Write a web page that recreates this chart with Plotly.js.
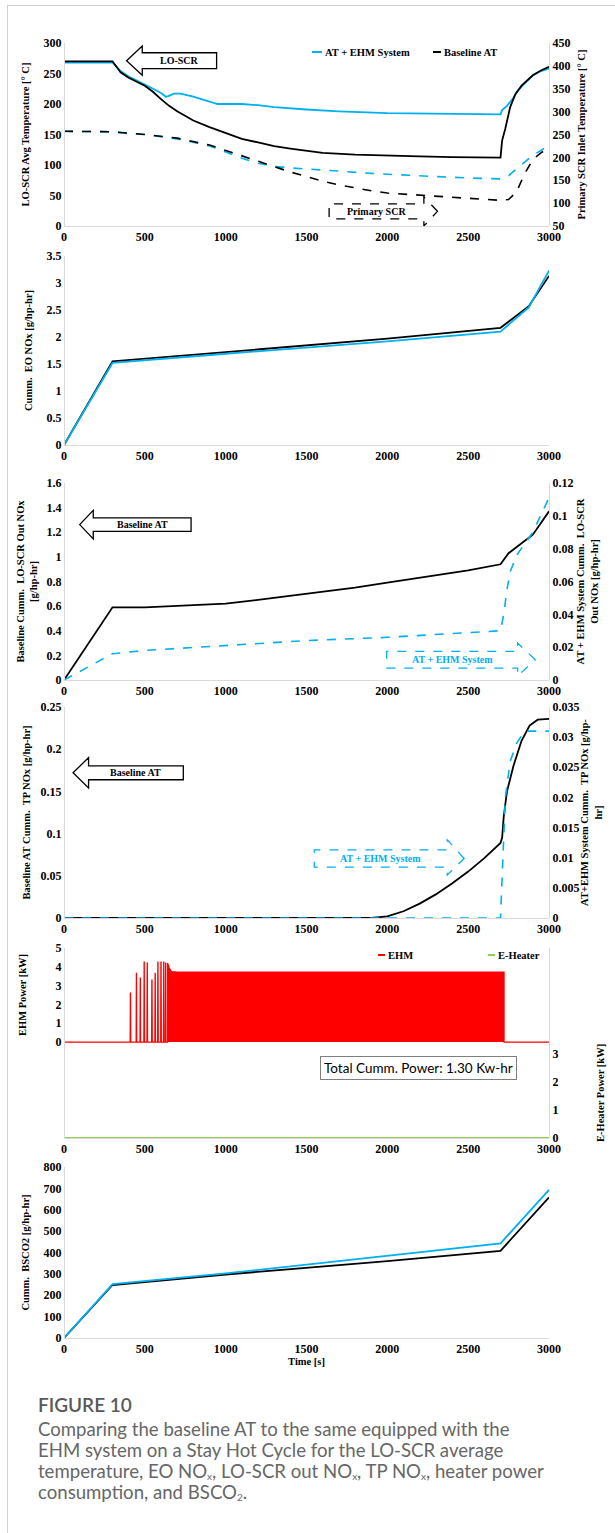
<!DOCTYPE html>
<html><head><meta charset="utf-8">
<script src="https://cdn.plot.ly/plotly-3.0.1.min.js"></script>
<style>
html,body{margin:0;padding:0;background:#fff;}
#wrap{position:relative;width:615px;height:1533px;overflow:hidden;}
#chart{position:absolute;left:0;top:0;width:615px;height:1533px;}
#frame{position:absolute;left:7px;top:5px;width:620px;height:1540px;border-left:1px solid #d0d0d0;border-top:1px solid #d0d0d0;pointer-events:none;}
#fig{position:absolute;left:38px;top:1393px;font-family:Lato,"Open Sans",sans-serif;font-size:19px;font-weight:600;color:#595959;}
#cap{position:absolute;left:38px;top:1419px;font-family:Lato,"Open Sans",sans-serif;font-size:18.6px;line-height:21px;color:#666;}
#cap sub{font-size:10px;vertical-align:-2px;line-height:0;}
</style></head>
<body><div id="wrap"><div id="chart"></div><div id="frame"></div>
<div id="fig">FIGURE 10</div>
<div id="cap">Comparing the baseline AT to the same equipped with the<br>EHM system on a Stay Hot Cycle for the LO-SCR average<br>temperature, EO NO<sub>x</sub>, LO-SCR out NO<sub>x</sub>, TP NO<sub>x</sub>, heater power<br>consumption, and BSCO<sub>2</sub>.</div>
</div>
<script>
// ---------- DATA ----------
// Panel 1: LO-SCR avg temperature (left axis) and primary SCR inlet temp (right axis)
const p1EhmTime = [0,300,350,400,500,600,630,645,680,720,800,900,950,1000,1100,1200,1300,1500,1700,2000,2300,2500,2700,2710,2740,2780,2800,2850,2900,2950,3000];
const p1EhmLoScr = [268,268,254,245,232,218,212,213,217,217,212,204,200,200,200,198,195,191,188,185,184,183,183,190,197,210,220,234,247,254,258];
const p1BaseTime = [0,300,350,400,500,550,600,650,700,800,900,1000,1100,1200,1300,1400,1500,1600,1800,2000,2200,2400,2600,2700,2710,2730,2760,2790,2830,2900,2950,3000];
const p1BaseLoScr = [270,270,252,243,230,220,208,197,188,173,162,152,143,137,131,127,123,120,117,115,114,113,112,112,140,160,195,215,230,247,255,261];
const p1EhmPriTime = [0,300,400,500,600,700,800,900,1000,1100,1200,1300,1400,1500,1700,1900,2100,2300,2500,2700,2750,2800,2850,2900,2950,3000];
const p1EhmPri = [257,256,252,250,245,240,233,225,212,198,187,180,177,175,170,165,161,158,155,153,160,175,190,205,215,227];
const p1BasePriTime = [0,300,500,700,900,1000,1200,1300,1400,1500,1600,1700,1800,1900,2000,2200,2400,2600,2700,2750,2800,2850,2900,2950,3000];
const p1BasePri = [257,256,250,242,227,215,192,180,168,158,148,140,133,127,122,117,112,108,106,108,125,165,195,210,220];

// Panel 2: cumulative engine-out NOx
const p2Time = [0,300,1000,2000,2700,2800,2875,3000];
const p2Base = [0,1.55,1.72,1.97,2.17,2.40,2.57,3.13];
const p2Ehm  = [0,1.52,1.69,1.92,2.10,2.35,2.55,3.23];

// Panel 3: cumulative LO-SCR out NOx
const p3BaseTime = [0,300,500,700,1000,1200,1500,1800,2000,2200,2500,2700,2720,2750,2800,2870,2900,3000];
const p3Base = [0,0.59,0.59,0.60,0.62,0.65,0.70,0.75,0.79,0.83,0.89,0.94,0.98,1.03,1.08,1.15,1.18,1.37];
const p3EhmTime = [0,300,500,1000,1500,2000,2500,2700,2720,2740,2760,2800,2850,2900,3000];
const p3Ehm = [0,0.016,0.018,0.021,0.024,0.026,0.029,0.030,0.040,0.055,0.066,0.076,0.083,0.090,0.111];

// Panel 4: cumulative tailpipe NOx
const p4BaseTime = [0,1900,2000,2100,2200,2300,2400,2500,2600,2700,2710,2720,2740,2780,2830,2880,2930,3000];
const p4Base = [0,0,0.002,0.008,0.017,0.028,0.041,0.055,0.071,0.089,0.095,0.120,0.150,0.180,0.210,0.228,0.235,0.236];
const p4EhmTime = [0,2700,2715,2730,2760,2800,2850,3000];
const p4Ehm = [0,0,0.010,0.020,0.026,0.029,0.031,0.031];

// Panel 5: EHM power (pulses then continuous block) and E-heater power
const p5SpikeTime = [411,448,472,496,515,544,564,581,600,617,629];
const p5SpikeKw = [2.6,3.65,3.4,4.25,4.2,3.3,3.65,4.25,4.25,4.25,4.2];
const p5BlockTime = [641,650,665,700,1500,2000,2722];
const p5BlockKw = [4.2,3.95,3.75,3.72,3.72,3.72,3.72];
const p5HeaterTime = [0,3000];
const p5HeaterKw = [0,0];

// Panel 6: cumulative BSCO2
const p6Time = [0,300,1000,2000,2700,3000];
const p6Ehm = [0,252,302,383,443,693];
const p6Base = [0,248,297,360,408,658];

const xTicks = [0,500,1000,1500,2000,2500,3000];

// ---------- STYLE / LAYOUT ----------
const W = 615, H = 1533;
const BLUE = '#00B0F0', BLACK = '#000000', RED = '#FF0000', GREEN = '#92D050', AX = '#d9d9d9';
const SERIF = 'Liberation Serif, Times New Roman, serif';
const tickF = {family: SERIF, size: 12, color: '#000', weight: 'bold'};
const titleF = {family: SERIF, size: 10.5, color: '#000', weight: 'bold'};
const xDom = [64 / W, 549 / W];
const dom = (t, b) => [1 - b / H, 1 - t / H];
const P = [[43,226],[256,445],[483,680],[707,918],[948,1138],[1167,1338]];

function xAx(anchor, extra) {
  return Object.assign({domain: xDom, anchor: anchor, range: [0,3000], tickvals: xTicks,
    showline: true, linecolor: AX, linewidth: 1, showgrid: false, zeroline: false, ticks: '',
    tickfont: tickF, fixedrange: true}, extra || {});
}
function yAx(d, range, dtick, title, standoff, extra) {
  return Object.assign({domain: d, anchor: 'free', position: xDom[0], range: range, dtick: dtick,
    showline: true, linecolor: AX, linewidth: 1, showgrid: false, zeroline: false, ticks: '',
    tickfont: tickF, title: {text: title, font: titleF, standoff: standoff}}, extra || {});
}
function yAxR(over, range, dtick, title, standoff, extra) {
  return Object.assign({overlaying: over, side: 'right', anchor: 'free', position: xDom[1], range: range, dtick: dtick,
    showline: true, linecolor: AX, linewidth: 1, showgrid: false, zeroline: false, ticks: '',
    tickfont: tickF, title: {text: title, font: titleF, standoff: standoff}}, extra || {});
}

const layout = {
  width: W, height: H, margin: {l: 0, r: 0, t: 0, b: 0}, showlegend: false,
  paper_bgcolor: '#fff', plot_bgcolor: 'rgba(0,0,0,0)',
  xaxis: xAx('y'),
  yaxis: yAx(dom(...P[0]), [0,300], 50, 'LO-SCR Avg Temperature [° C]', 10),
  yaxis2: yAxR('y', [50,450], 50, 'Primary SCR Inlet Temperature [° C]', 8),
  xaxis2: xAx('y3'),
  yaxis3: yAx(dom(...P[1]), [0,3.5], 0.5, 'Cumm.  EO NOx [g/hp-hr]', 10),
  xaxis3: xAx('y4'),
  yaxis4: yAx(dom(...P[2]), [0,1.6], 0.2, 'Baseline Cumm.  LO-SCR Out NOx<br>[g/hp-hr]', 5),
  yaxis5: yAxR('y4', [0,0.12], 0.02, 'AT + EHM System Cumm.  LO-SCR<br>Out NOx [g/hp-hr]', 4),
  xaxis4: xAx('y6'),
  yaxis6: yAx(dom(...P[3]), [0,0.25], 0.05, 'Baseline AT Cumm.  TP NOx [g/hp-hr]', 6),
  yaxis7: yAxR('y6', [0,0.035], 0.005, 'AT+EHM System Cumm.  TP NOx [g/hp-<br>hr]', 2),
  xaxis5: xAx('y8'),
  yaxis8: yAx(dom(...P[4]), [-5.1,5], 1, '', 12, {tickvals: [0,1,2,3,4,5]}),
  yaxis9: yAxR('y8', [0,6.8], 1, '', 14, {tickvals: [0,1,2,3]}),
  xaxis6: xAx('y10', {title: {text: 'Time [s]', font: titleF, standoff: 2}}),
  yaxis10: yAx(dom(...P[5]), [0,800], 100, 'Cumm.  BSCO2 [g/hp-hr]', 10),
  shapes: [], annotations: []
};

// helpers for annotation graphics (legend keys, arrows)
const pxX = x => x / W, pxY = y => 1 - y / H;
function legendKey(x0, x1, y, color, label) {
  layout.shapes.push({type: 'line', xref: 'paper', yref: 'paper', x0: pxX(x0), x1: pxX(x1), y0: pxY(y), y1: pxY(y), line: {color: color, width: 2}});
  layout.annotations.push({xref: 'paper', yref: 'paper', x: pxX(x1 + 0.5), y: pxY(y), xanchor: 'left', yanchor: 'middle', showarrow: false, text: label, font: titleF});
}
function arrowLeft(xr, yr, tip, headBase, tail, yMid, headHalf, bodyHalf, color, dash, label) {
  const p = `M${tip},${yMid} L${headBase},${yMid + headHalf} L${headBase},${yMid + bodyHalf} L${tail},${yMid + bodyHalf} L${tail},${yMid - bodyHalf} L${headBase},${yMid - bodyHalf} L${headBase},${yMid - headHalf} Z`;
  layout.shapes.push({type: 'path', xref: xr, yref: yr, path: p, fillcolor: '#fff', line: {color: color, width: 1.3, dash: dash}});
  layout.annotations.push({xref: xr, yref: yr, x: (headBase + tail) / 2, y: yMid, showarrow: false, text: label, font: Object.assign({}, titleF, {size: 10, color: color === BLUE ? BLUE : '#000'})});
}
function arrowRight(xr, yr, tail, headBase, tip, yMid, headTop, headBot, bodyHalf, color, dash, label) {
  const p = `M${tip},${yMid} L${headBase},${headTop} L${headBase},${yMid + bodyHalf} L${tail},${yMid + bodyHalf} L${tail},${yMid - bodyHalf} L${headBase},${yMid - bodyHalf} L${headBase},${headBot} Z`;
  layout.shapes.push({type: 'path', xref: xr, yref: yr, path: p, fillcolor: 'rgba(0,0,0,0)', line: {color: color, width: 1.3, dash: dash}});
  layout.annotations.push({xref: xr, yref: yr, x: (tail + headBase) / 2, y: yMid, showarrow: false, text: label, font: Object.assign({}, titleF, {size: 10, color: color === BLUE ? BLUE : '#000'})});
}

// Panel 1 legend and arrows
legendKey(312, 322, 52, BLUE, 'AT + EHM System');
legendKey(433, 441, 52, BLACK, 'Baseline AT');
arrowLeft('x', 'y', 387, 484, 944, 271, 24, 13, BLACK, 'solid', 'LO-SCR');
arrowRight('x', 'y', 1640, 2226, 2310, 24, 48, 0, 12.3, BLACK, 'dash', 'Primary SCR');
// Panel 3 arrows
arrowLeft('x3', 'y4', 97, 181, 786, 1.262, 0.116, 0.055, BLACK, 'solid', 'Baseline AT');
arrowRight('x3', 'y4', 1996, 2806, 2915, 0.164, 0.30, 0.033, 0.068, BLUE, 'dash', 'AT + EHM System');
// Panel 4 arrows
arrowLeft('x4', 'y6', 56, 152, 738, 0.1720, 0.0180, 0.0082, BLACK, 'solid', 'Baseline AT');
arrowRight('x4', 'y6', 1548, 2371, 2475, 0.0705, 0.0926, 0.051, 0.0102, BLUE, 'dash', 'AT + EHM System');
// Panel 5 legend, axis titles and text box
legendKey(378, 385, 955, RED, 'EHM');
legendKey(488, 495, 955, GREEN, 'E-Heater');
layout.annotations.push({xref: 'paper', yref: 'paper', x: pxX(22), y: pxY(995), showarrow: false, textangle: -90,
  xanchor: 'center', yanchor: 'middle', text: 'EHM Power [kW]', font: titleF});
layout.annotations.push({xref: 'paper', yref: 'paper', x: pxX(600), y: pxY(1093), showarrow: false, textangle: -90,
  xanchor: 'center', yanchor: 'middle', text: 'E-Heater Power [kW]', font: titleF});
layout.annotations.push({xref: 'paper', yref: 'paper', x: pxX(418), y: pxY(1068), xanchor: 'center', yanchor: 'middle', showarrow: false,
  text: 'Total Cumm. Power: 1.30 Kw-hr', font: {family: 'Lato, Open Sans, sans-serif', size: 13.5, color: '#000'},
  bordercolor: '#7f7f7f', borderwidth: 1, borderpad: 3, bgcolor: '#fff'});

// ---------- TRACES ----------
const ln = (x, y, color, dash, xa, ya, w) => ({type: 'scatter', mode: 'lines', x: x, y: y, xaxis: xa, yaxis: ya,
  line: {color: color, width: w || 1.8, dash: dash || 'solid'}, hoverinfo: 'skip'});

// EHM power series assembled from pulse and block readings
const ehmX = [0], ehmY = [0];
p5SpikeTime.forEach((t, i) => { ehmX.push(t - 2, t - 0.5, t + 0.5, t + 2); ehmY.push(0, p5SpikeKw[i], p5SpikeKw[i], 0); });
ehmX.push(p5BlockTime[0]); ehmY.push(0);
p5BlockTime.forEach((t, i) => { ehmX.push(t); ehmY.push(p5BlockKw[i]); });
ehmX.push(p5BlockTime[p5BlockTime.length - 1], 3000); ehmY.push(0, 0);

const data = [
  ln(p1EhmPriTime, p1EhmPri, BLUE, 'dash', 'x', 'y2', 1.6),
  ln(p1BasePriTime, p1BasePri, BLACK, 'dash', 'x', 'y2', 1.6),
  ln(p1EhmTime, p1EhmLoScr, BLUE, 'solid', 'x', 'y'),
  ln(p1BaseTime, p1BaseLoScr, BLACK, 'solid', 'x', 'y'),
  ln(p2Time, p2Base, BLACK, 'solid', 'x2', 'y3'),
  ln(p2Time, p2Ehm, BLUE, 'solid', 'x2', 'y3'),
  ln(p3BaseTime, p3Base, BLACK, 'solid', 'x3', 'y4'),
  ln(p3EhmTime, p3Ehm, BLUE, 'dash', 'x3', 'y5', 1.6),
  ln(p4BaseTime, p4Base, BLACK, 'solid', 'x4', 'y6'),
  ln(p4EhmTime, p4Ehm, BLUE, 'dash', 'x4', 'y7', 1.6),
  Object.assign(ln(ehmX, ehmY, RED, 'solid', 'x5', 'y8', 1.2), {fill: 'tozeroy', fillcolor: RED}),
  ln(p5HeaterTime, p5HeaterKw, GREEN, 'solid', 'x5', 'y9', 2.2),
  ln(p6Time, p6Base, BLACK, 'solid', 'x6', 'y10'),
  ln(p6Time, p6Ehm, BLUE, 'solid', 'x6', 'y10')
];

Plotly.newPlot('chart', data, layout, {staticPlot: true, displayModeBar: false});
</script></body></html>
